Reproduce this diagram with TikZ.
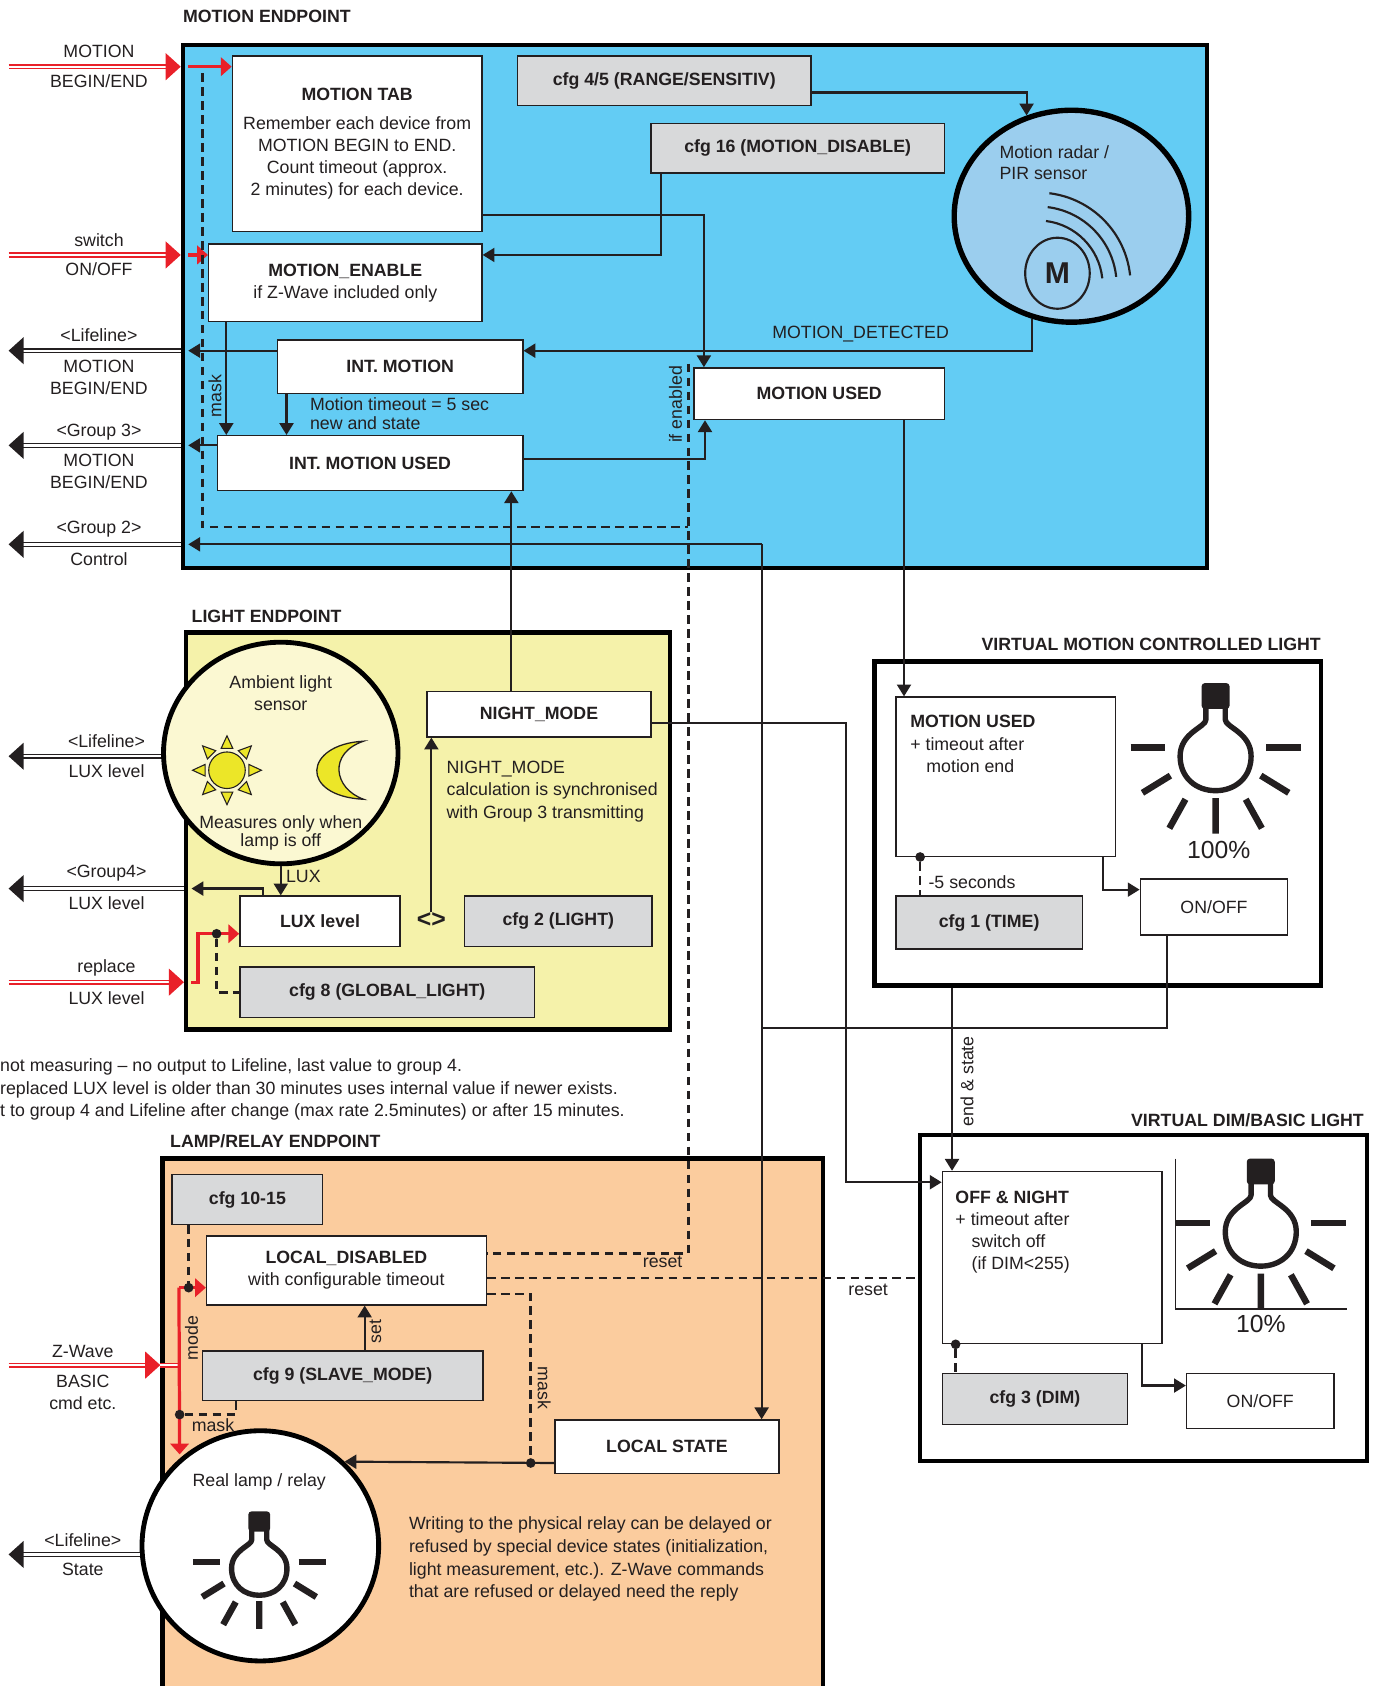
\documentclass[tikz,border=0pt]{standalone}
\usepackage{fontspec}
\setmainfont{Liberation Sans}
\usetikzlibrary{arrows.meta,positioning,shapes.geometric}

\definecolor{motionblue}{RGB}{99,204,244}
\definecolor{radarblue}{RGB}{155,206,238}
\definecolor{lightyellow}{RGB}{245,242,170}
\definecolor{sensoryellow}{RGB}{251,248,210}
\definecolor{relaypeach}{RGB}{251,204,158}
\definecolor{cfggray}{RGB}{216,217,218}
\definecolor{zred}{RGB}{233,32,41}
\definecolor{sunyellow}{RGB}{236,230,40}
\definecolor{ink}{RGB}{35,31,32}

\newcommand{\txtsize}{\fontsize{16.5}{20.5}\selectfont}

\tikzset{%
  % Specifications for style of nodes:
         base/.style = {draw=ink, line width=1.3pt, inner sep=0pt, align=center,
                        text=ink, font=\bfseries\txtsize},
           sz/.style 2 args = {minimum width=#1pt, minimum height=#2pt},
        block/.style = {base, fill=white},
     cfgblock/.style = {base, fill=cfggray},
     endpoint/.style = {draw=black, line width=4pt, inner sep=0pt},
       sensor/.style = {ellipse, draw=black, line width=4.5pt, inner sep=0pt},
      eptitle/.style = {font=\bfseries\txtsize, text=ink, inner sep=0pt},
           io/.style = {font=\txtsize, text=ink, inner sep=0pt, align=center},
         note/.style = {font=\txtsize, text=ink, inner sep=0pt, align=left},
     junction/.style = {circle, fill=ink, inner sep=0pt, minimum size=9pt},
  % connectors
          pil/.style = {draw=ink, line width=2pt, -{Triangle[length=11pt,width=13pt]}},
         wire/.style = {draw=ink, line width=2pt},
     dashwire/.style = {draw=ink, line width=2.5pt, dash pattern=on 8pt off 5pt},
       redpil/.style = {draw=zred, line width=3pt, -{Triangle[length=10pt,width=17pt]}},
        redin/.style = {draw=zred, double=white, double distance=2.2pt, line width=1.3pt,
                        -{Triangle[length=14pt,width=25pt]}},
     blackout/.style = {draw=ink, double=white, double distance=2.2pt, line width=1.3pt,
                        -{Triangle[length=14pt,width=25pt]}},
  pics/bulb/.style = {code={
    \fill[ink, rounded corners=3pt] (-13,-68) rectangle (13,-44);
    \draw[ink, line width=5pt, line join=round] (-9,-46) -- (-9,-34)
      .. controls (-9,-27) and (-33,-22) .. (-33,0)
      .. controls (-33,20) and (-18,32) .. (0,32)
      .. controls (18,32) and (33,20) .. (33,0)
      .. controls (33,-22) and (9,-27) .. (9,-34) -- (9,-46);
    \draw[ink, line width=6pt] (-79,-8) -- (-47,-8) (47,-8) -- (79,-8);
    \draw[ink, line width=6pt] (-68,34) -- (-42,18) (-43,67) -- (-28,40) (0,72) -- (0,39)
      (43,67) -- (28,40) (68,34) -- (42,18);
  }}
}

\begin{document}
\begin{tikzpicture}[x=1pt, y=-1pt]
\useasboundingbox (0,0) rectangle (1281,1567.3);

% MOTION ENDPOINT
\node (motionep) [endpoint, fill=motionblue, sz={952}{486}] at (646,285) {};
\node (motiontitle) [eptitle, anchor=west] at (170,15) {MOTION ENDPOINT};
\node (tab) [block, font=\txtsize, sz={232}{163}] at (332,133.5)
  {\textbf{MOTION TAB}\\[7pt]Remember each device from\\MOTION BEGIN to END.\\Count timeout (approx.\\2 minutes) for each device.};
\node (cfg45) [cfgblock, sz={273}{46}] at (617.5,75) {cfg 4/5 (RANGE/SENSITIV)};
\node (cfg16) [cfgblock, sz={273}{46}] at (741.5,138) {cfg 16 (MOTION\_DISABLE)};
\node (radar) [sensor, line width=5pt, fill=radarblue, minimum width=218pt, minimum height=197pt] at (996,201) {};
\node (radartxt) [note, anchor=north west, font=\fontsize{16.5}{20}\selectfont] at (929,135) {Motion radar /\\PIR sensor};
\node (mcirc) [ellipse, draw=ink, line width=2pt, minimum width=60pt, minimum height=66pt,
  font=\bfseries\fontsize{28}{30}\selectfont, text=ink] at (983,254) {M};
\foreach \r in {60,73,86}
  \draw[ink, line width=2pt] (965,265) ++(-83:\r) arc[start angle=-83, end angle=-6, radius=\r];
\node (mena) [block, font=\txtsize, sz={254}{72}] at (321,263) {\textbf{MOTION\_ENABLE}\\if Z-Wave included only};
\node (intm) [block, sz={228}{50}] at (372,341) {INT. MOTION};
\node (intmu) [block, sz={284}{51}] at (344,430.5) {INT. MOTION USED};
\node (mused) [block, sz={233}{48}] at (761.5,366) {MOTION USED};
\node (timeouttxt) [note, anchor=north west, font=\fontsize{16.5}{18}\selectfont] at (288,369) {Motion timeout = 5 sec\\new and state};
\node (ldetect) [io] at (800,311) {MOTION\_DETECTED};
\node (lmask1) [io, rotate=90] at (200,368) {mask};
\node (lenabled) [io, rotate=90] at (628,376) {if enabled};

% LIGHT ENDPOINT
\node (lightep) [endpoint, fill=lightyellow, sz={450}{369}] at (398,772.5) {};
\node (lighttitle) [eptitle, anchor=west] at (178,573) {LIGHT ENDPOINT};
\node (ambient) [sensor, fill=sensoryellow, minimum width=218pt, minimum height=206pt] at (261,700) {};
\node (ambtxt) [io] at (261,644.5) {Ambient light\\sensor};
\node (measuretxt) [io, font=\fontsize{16.5}{15}\selectfont] at (261,774.5) {Measures only when\\lamp is off};
\begin{scope}[shift={(211,716)}]
  \foreach \a in {0,45,...,315}
    \filldraw[fill=sunyellow, draw=ink, line width=1pt] (\a:32) -- (\a+15:21) -- (\a-15:21) -- cycle;
  \filldraw[fill=sunyellow, draw=ink, line width=1pt] (0,0) circle (17);
\end{scope}
\filldraw[fill=sunyellow, draw=ink, line width=1.2pt] (338,689) .. controls (282,692) and (278,740) .. (338,743)
  .. controls (310,733) and (305,700) .. (338,689) -- cycle;
\node (luxlvl) [block, sz={149}{47}] at (297.5,856.5) {LUX level};
\node (nightm) [block, sz={208}{42}] at (501,664) {NIGHT\_MODE};
\node (cfg2) [cfgblock, sz={174}{47}] at (519,856.5) {cfg 2 (LIGHT)};
\node (cfg8) [cfgblock, sz={274}{47}] at (360,922.5) {cfg 8 (GLOBAL\_LIGHT)};
\node (neq) [eptitle, font=\bfseries\fontsize{23}{25}\selectfont] at (401,855) {<>};
\node (nighttxt) [note, anchor=north west, font=\fontsize{16.5}{21}\selectfont] at (415,707)
  {NIGHT\_MODE\\calculation is synchronised\\with Group 3 transmitting};
\node (llux) [io] at (282,815) {LUX};
\node (footnote) [note, anchor=north west, font=\fontsize{16.5}{21}\selectfont] at (0,984)
  {not measuring – no output to Lifeline, last value to group 4.\\replaced LUX level is older than 30 minutes uses internal value if newer exists.\\t to group 4 and Lifeline after change (max rate 2.5minutes) or after 15 minutes.};

% VIRTUAL MOTION CONTROLLED LIGHT
\node (vmotion) [endpoint, fill=white, sz={415}{301}] at (1020.5,765.5) {};
\node (vmotiontitle) [eptitle, anchor=east] at (1228,599) {VIRTUAL MOTION CONTROLLED LIGHT};
\node (vmused) [block, sz={204}{148}] at (935,722) {};
\node (vmusedtxt) [note, anchor=north west] at (846,665) {\textbf{MOTION USED}\\+ timeout after\\\hspace*{15pt}motion end};
\node (cfgtime) [cfgblock, sz={173}{49}] at (919.5,857.5) {cfg 1 (TIME)};
\node (onoffm) [block, font=\txtsize, sz={137}{52}] at (1128.5,843) {ON/OFF};
\pic at (1130,703) {bulb};
\node (pct100) [io, font=\fontsize{23}{25}\selectfont] at (1133,790) {100\%};
\node (lsec) [io, anchor=west] at (863,820) {-5 seconds};

% VIRTUAL DIM/BASIC LIGHT
\node (vdim) [endpoint, fill=white, sz={416}{303}] at (1063,1206.5) {};
\node (vdimtitle) [eptitle, anchor=east] at (1268,1041) {VIRTUAL DIM/BASIC LIGHT};
\node (offnight) [block, sz={204}{160}] at (978,1169) {};
\node (offnighttxt) [note, anchor=north west] at (888,1107)
  {\textbf{OFF \& NIGHT}\\+ timeout after\\\hspace*{15pt}switch off\\\hspace*{15pt}(if DIM<255)};
\node (cfgdim) [cfgblock, sz={172}{47}] at (962,1300.5) {cfg 3 (DIM)};
\node (onoffd) [block, font=\txtsize, sz={137}{51}] at (1171.5,1302.5) {ON/OFF};
\draw[ink, line width=1.3pt] (1093,1077) |- (1252,1217);
\pic at (1172,1145) {bulb};
\node (pct10) [io, font=\fontsize{23}{25}\selectfont] at (1172,1231) {10\%};

% LAMP/RELAY ENDPOINT
\node (lampep) [endpoint, fill=relaypeach, sz={614}{523}] at (458,1338.5) {};
\node (lamptitle) [eptitle, anchor=west] at (158,1061) {LAMP/RELAY ENDPOINT};
\node (cfgloc) [cfgblock, sz={140}{46}] at (230,1115) {cfg 10-15};
\node (locdis) [block, font=\txtsize, sz={260}{64}] at (322,1181) {\textbf{LOCAL\_DISABLED}\\with configurable timeout};
\node (cfgslave) [cfgblock, sz={261}{46}] at (318.5,1279) {cfg 9 (SLAVE\_MODE)};
\node (locstate) [block, sz={208}{50}] at (620,1345) {LOCAL STATE};
\node (lamp) [sensor, fill=white, minimum width=220pt, minimum height=214pt] at (242,1437) {};
\node (lamptxt) [io] at (241,1378) {Real lamp / relay};
\pic[scale=0.78] at (241,1458) {bulb};
\node (relaynote) [note, anchor=north west, font=\fontsize{16.5}{21}\selectfont] at (380,1410)
  {Writing to the physical relay can be delayed or\\refused by special device states (initialization,\\light measurement, etc.). Z-Wave commands\\that are refused or delayed need the reply};
\node (lmode) [io, rotate=90] at (178,1244) {mode};
\node (lset) [io, rotate=90] at (349,1238) {set};
\node (lmask2) [io] at (198,1325) {mask};
\node (lmask3) [io, rotate=-90] at (506,1290) {mask};
\node (lreset1) [io] at (616,1173) {reset};
\node (lreset2) [io] at (807,1199) {reset};
\node (lendst) [io, rotate=90] at (899,1005) {end \& state};

% side inputs and outputs
\coordinate (mleft) at ([xshift=7pt]motionep.west);
\coordinate (lleft) at ([xshift=7pt]lightep.west);
\coordinate (inmotion) at (8,62);
\coordinate (inswitch) at (8,237);
\coordinate (outlife) at (8,326);
\coordinate (outgrp3) at (8,414);
\coordinate (outgrp2) at (8,506);
\coordinate (outlux) at (8,703);
\coordinate (outgrp4) at (8,826);
\coordinate (inreplace) at (8,913);
\coordinate (inzwave) at (8,1269);
\coordinate (outstate) at (8,1445);

\node (lmotion1) [io] at (92,62) {MOTION\\[7.5pt]BEGIN/END};
\node (lswitch) [io] at (92,236.5) {switch\\[6.5pt]ON/OFF};
\node (llife1) [io] at (92,312) {<Lifeline>};
\node (lmotion2) [io] at (92,350.5) {MOTION\\BEGIN/END};
\node (lgrp3) [io] at (92,402) {<Group 3>};
\node (lmotion3) [io] at (92,438.5) {MOTION\\BEGIN/END};
\node (lgrp2) [io] at (92,492) {<Group 2>};
\node (lcontrol) [io] at (92,520) {Control};
\node (llife2) [io] at (99,689) {<Lifeline>};
\node (llux2) [io] at (99,717) {LUX level};
\node (lgrp4) [io] at (99,812) {<Group4>};
\node (llux4) [io] at (99,840) {LUX level};
\node (lreplace) [io] at (99,900) {replace};
\node (lluxr) [io] at (99,928) {LUX level};
\node (lzwave) [io] at (77,1256) {Z-Wave};
\node (lbasic) [io] at (77,1294.5) {BASIC\\cmd etc.};
\node (llife4) [io] at (77,1432) {<Lifeline>};
\node (lstate) [io] at (77,1459) {State};

\draw[redin] (inmotion) -- (inmotion -| motionep.west);
\draw[redpil] (inmotion -| mleft) -- (inmotion -| tab.west);
\draw[redin] (inswitch) -- (inswitch -| motionep.west);
\draw[redpil] (inswitch -| mleft) -- (inswitch -| mena.west);
\draw[blackout] (outlife -| motionep.west) -- (outlife);
\draw[pil] (outlife -| intm.west) -- (outlife -| mleft);
\draw[blackout] (outgrp3 -| motionep.west) -- (outgrp3);
\draw[pil] (outgrp3 -| intmu.west) -- (outgrp3 -| mleft);
\draw[blackout] (outgrp2 -| motionep.west) -- (outgrp2);
\coordinate (grp2) at (708,506);
\draw[pil] (grp2) -- (outgrp2 -| mleft);
\draw[pil] (grp2) -- (grp2 |- locstate.north);

% motion connectors
\draw[pil] ([yshift=-11pt]cfg45.east) -| (radar.114);
\draw[pil] ([xshift=10pt]cfg16.south west) |- ([yshift=26pt]mena.east);
\draw[pil] ([yshift=-66.5pt]tab.east) -| ([xshift=10pt]mused.north west);
\draw[pil] ([xshift=17pt]mena.south west) -- ([xshift=9pt]intmu.north west);
\draw[pil] ([xshift=9pt]intm.south west) -- ([xshift=65pt]intmu.north west);
\draw[pil] (radar.249) |- ([yshift=15pt]intm.east);
\draw[pil] ([yshift=3.5pt]intmu.east) -| ([xshift=11pt]mused.south west);
\draw[pil] ([xshift=79pt]nightm.north west) coordinate (nmup) -- (nmup |- intmu.south);
\draw[pil] ([xshift=196pt]mused.south west) coordinate (mudown) -- (mudown |- vmused.north);
\coordinate (dashtop) at (188,68);
\coordinate (dashcorner) at (188,490);
\coordinate (dashright) at (640,338);
\draw[dashwire] (dashtop) -- (dashcorner) -- (dashcorner -| dashright);
\draw[dashwire] (dashright) |- ([yshift=16pt]locdis.east);

% light connectors
\draw[blackout] (outlux -| ambient.west) -- (outlux);
\draw[blackout] (outgrp4 -| lightep.west) -- (outgrp4);
\draw[pil] ([xshift=22pt]luxlvl.north west) |- (outgrp4 -| lleft);
\draw[pil] (ambient.south) -- (ambient.south |- luxlvl.north);
\draw[pil] (neq.north) -- (neq.north |- nightm.south);
\draw[redin] (inreplace) -- (inreplace -| lightep.west);
\draw[redpil] (inreplace -| lleft) -- ++(6,0) |- ([yshift=-11.5pt]luxlvl.west);
\node (dotlux) [junction] at ([xshift=-21pt,yshift=-11.5pt]luxlvl.west) {};
\draw[dashwire] (dotlux) |- (cfg8.west);
\draw[pil] ([yshift=-8pt]nightm.east) -- ++(181,0) |- ([yshift=70pt]offnight.west);

% virtual light connectors
\draw[pil] ([xshift=-12pt]vmused.south east) |- ([yshift=16pt]onoffm.west);
\node (dotvm) [junction] at ([xshift=23pt]vmused.south west) {};
\draw[dashwire] (dotvm) -- (dotvm |- cfgtime.north);
\coordinate (join) at (708,956);
\draw[wire] ([xshift=-43.5pt]onoffm.south) |- (join);
\draw[pil] ([xshift=74pt]vmotion.south west) coordinate (endst) -- (endst |- offnight.north);
\draw[pil] ([xshift=-19pt]offnight.south east) |- ([yshift=14.5pt]onoffd.west);
\node (dotdim) [junction] at ([xshift=13pt]offnight.south west) {};
\draw[dashwire] (dotdim) -- (dotdim |- cfgdim.north);
\draw[dashwire] ([yshift=-7pt]locdis.east) coordinate (rst) -- (rst -| vdim.west);

% lamp connectors
\draw[redin] (inzwave) -- (inzwave -| lampep.west);
\coordinate (redtop) at ([xshift=-25pt,yshift=-16pt]locdis.west);
\coordinate (redbot) at (167,1352);
\draw[draw=zred, double=white, double distance=2.2pt, line width=1.3pt] (inzwave -| lampep.west) -- (inzwave -| redtop);
\draw[redpil] (redtop) -- (redbot);
\draw[redpil] (redtop) -- ([yshift=-16pt]locdis.west);
\draw[dashwire] ([xshift=16pt]cfgloc.south west) coordinate (cfgdn) -- (cfgdn |- redtop) node[junction] (dotmode) {};
\draw[pil] ([xshift=20.5pt]cfgslave.north) coordinate (setup) -- (setup |- locdis.south);
\node (dotmask) [junction] at (167,1315) {};
\draw[dashwire] (dotmask) -| ([xshift=32pt]cfgslave.south west);
\node (dotstate) [junction] at ([xshift=-22pt,yshift=-15pt]locstate.west) {};
\draw[dashwire] ([yshift=-22pt]locdis.east) -| (dotstate);
\draw[pil] ([yshift=-15pt]locstate.west) -- (lamp.45);
\draw[blackout] (outstate -| lamp.west) -- (outstate);

\end{tikzpicture}
\end{document}
